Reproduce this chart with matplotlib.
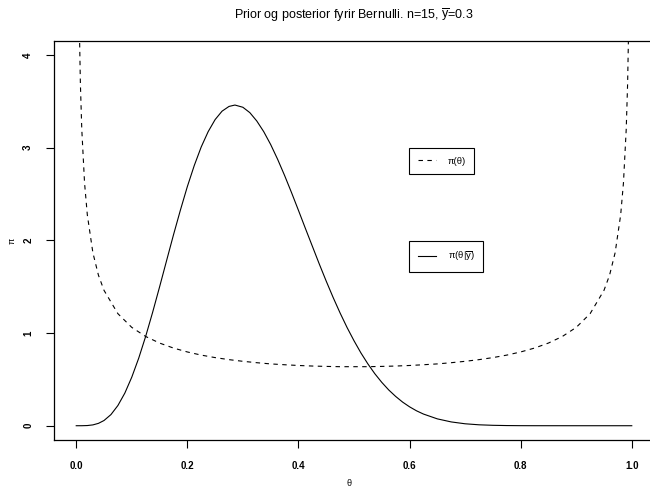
import numpy as np
import matplotlib
matplotlib.use("Agg")
import matplotlib.pyplot as plt

plt.rcParams['font.family'] = ['Liberation Sans', 'DejaVu Sans']
plt.rcParams['mathtext.fontset'] = 'custom'
plt.rcParams['mathtext.rm'] = 'Liberation Sans'
plt.rcParams['mathtext.it'] = 'Liberation Sans'

# prior pi(theta), dashed
prior_theta = [0.005, 0.0075, 0.01, 0.015, 0.02, 0.03, 0.04, 0.05, 0.075, 0.1,
               0.125, 0.15, 0.175, 0.2, 0.225, 0.25, 0.275, 0.3, 0.325, 0.35,
               0.375, 0.4, 0.425, 0.45, 0.475, 0.5, 0.525, 0.55, 0.575, 0.6,
               0.625, 0.65, 0.675, 0.7, 0.725, 0.75, 0.775, 0.8, 0.825, 0.85,
               0.875, 0.9, 0.925, 0.95, 0.96, 0.97, 0.98, 0.985, 0.99, 0.9925,
               0.995]
prior = [4.513, 3.689, 3.199, 2.619, 2.274, 1.866, 1.624, 1.461, 1.209, 1.061,
         0.963, 0.892, 0.838, 0.796, 0.762, 0.735, 0.713, 0.695, 0.680, 0.667,
         0.658, 0.650, 0.644, 0.640, 0.637, 0.637, 0.637, 0.640, 0.644, 0.650,
         0.658, 0.667, 0.680, 0.695, 0.713, 0.735, 0.762, 0.796, 0.838, 0.892,
         0.963, 1.061, 1.209, 1.461, 1.624, 1.866, 2.274, 2.619, 3.199, 3.689,
         4.513]

# posterior pi(theta | ybar), solid
post_theta = [0.0, 0.01, 0.02, 0.03, 0.04, 0.05, 0.0625, 0.075, 0.0875, 0.1,
              0.1125, 0.125, 0.1375, 0.15, 0.1625, 0.175, 0.1875, 0.2, 0.2125, 0.225,
              0.2375, 0.25, 0.2625, 0.275, 0.2857, 0.3, 0.3125, 0.325, 0.3375, 0.35,
              0.3625, 0.375, 0.3875, 0.4, 0.4125, 0.425, 0.4375, 0.45, 0.4625, 0.475,
              0.4875, 0.5, 0.5125, 0.525, 0.5375, 0.55, 0.5625, 0.575, 0.5875, 0.6,
              0.6125, 0.625, 0.65, 0.675, 0.7, 0.725, 0.75, 0.775, 0.8, 0.825,
              0.85, 0.9, 1.0]
posterior = [0.0, 0.0001, 0.0020, 0.0090, 0.0256, 0.0562, 0.1202, 0.218, 0.352, 0.524,
             0.729, 0.964, 1.223, 1.497, 1.778, 2.058, 2.326, 2.580, 2.808, 3.008,
             3.173, 3.303, 3.394, 3.445, 3.460, 3.436, 3.378, 3.288, 3.173, 3.034,
             2.875, 2.701, 2.516, 2.324, 2.129, 1.937, 1.745, 1.560, 1.383, 1.216,
             1.060, 0.917, 0.785, 0.667, 0.561, 0.468, 0.386, 0.316, 0.255, 0.204,
             0.161, 0.126, 0.074, 0.041, 0.021, 0.010, 0.0045, 0.0018, 0.0006, 0.0002,
             0.0001, 0.0, 0.0]

fig = plt.figure(figsize=(6.5, 4.93), dpi=100)
ax = fig.add_axes([54/650, 1 - 440/493, 600/650, 399/493])

l1, = ax.plot(prior_theta, prior, color='black', lw=0.8, linestyle=(0, (4, 4)))
l2, = ax.plot(post_theta, posterior, color='black', lw=0.8)

ax.set_xlim(-0.04, 1.04)
ax.set_ylim(-0.154, 4.151)
ax.set_xticks([0.0, 0.2, 0.4, 0.6, 0.8, 1.0])
ax.set_xticklabels(['0.0', '0.2', '0.4', '0.6', '0.8', '1.0'])
ax.set_yticks([0, 1, 2, 3, 4])
ax.tick_params(axis='both', length=6, width=0.8, labelsize=7, pad=9)
for t in ax.get_xticklabels() + ax.get_yticklabels():
    t.set_fontweight('bold')
for t in ax.get_yticklabels():
    t.set_rotation(90)
    t.set_va('center')
for s in ax.spines.values():
    s.set_linewidth(0.9)

fig.text(354/650, 1 - 15/493, r'Prior og posterior fyrir Bernulli. n=15, $\overline{\mathrm{y}}$=0.3',
         ha='center', va='center', fontsize=9)
fig.text(349/650, 1 - 484/493, 'θ', ha='center', va='center', fontsize=6.5)
fig.text(12/650, 1 - 241/493, 'π', ha='center', va='center', fontsize=6.5, rotation=90)

leg_kw = dict(loc='upper left', bbox_transform=fig.transFigure, borderaxespad=0,
              fancybox=False, edgecolor='black', framealpha=1, fontsize=6.8,
              handlelength=2.0, borderpad=0.9, handletextpad=1.2)
leg1 = ax.legend([l1], ['π(θ)'], bbox_to_anchor=(409/650, 1 - 148/493), **leg_kw)
leg1.get_frame().set_linewidth(0.8)
ax.add_artist(leg1)
leg2 = ax.legend([l2], [r'π(θ|$\overline{\mathrm{y}}$)'], bbox_to_anchor=(409/650, 1 - 241/493), **leg_kw)
leg2.get_frame().set_linewidth(0.8)

fig.savefig('out.png', dpi=100)
